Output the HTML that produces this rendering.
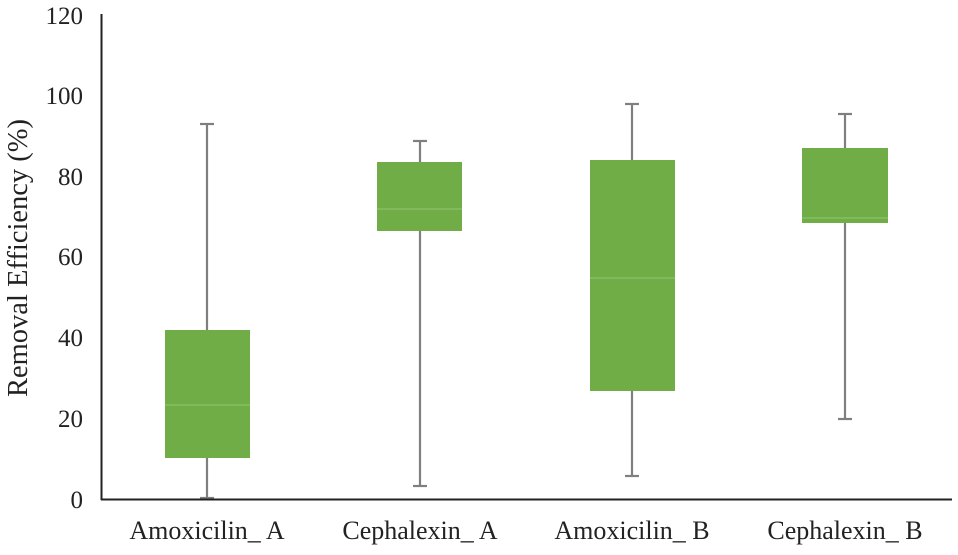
<!DOCTYPE html>
<html><head><meta charset="utf-8"><style>
html,body{margin:0;padding:0;background:#fff;}
</style></head><body>
<svg width="958" height="550" xmlns="http://www.w3.org/2000/svg" font-family="Liberation Serif, serif" fill="#222">
<g font-size="25" text-anchor="end">
<text x="83" y="508">0</text>
<text x="83" y="427">20</text>
<text x="83" y="346">40</text>
<text x="83" y="265">60</text>
<text x="83" y="185">80</text>
<text x="83" y="104">100</text>
<text x="83" y="24">120</text>
</g>
<text transform="translate(27,258) rotate(-90)" font-size="28.5" text-anchor="middle">Removal Efficiency (%)</text>
<g stroke="#7f7f7f" stroke-width="2.2" fill="none">
<line x1="207" y1="124" x2="207" y2="498"/><line x1="200" y1="124" x2="214" y2="124"/><line x1="200" y1="498" x2="214" y2="498"/>
<line x1="420" y1="141" x2="420" y2="486"/><line x1="413" y1="141" x2="427" y2="141"/><line x1="413" y1="486" x2="427" y2="486"/>
<line x1="632" y1="104" x2="632" y2="476"/><line x1="625" y1="104" x2="639" y2="104"/><line x1="625" y1="476" x2="639" y2="476"/>
<line x1="845" y1="114" x2="845" y2="419"/><line x1="838" y1="114" x2="852" y2="114"/><line x1="838" y1="419" x2="852" y2="419"/>
</g>
<g fill="#70ad47">
<rect x="165" y="330" width="85" height="128"/>
<rect x="377" y="162" width="85" height="69"/>
<rect x="590" y="160" width="85" height="231"/>
<rect x="802" y="148" width="86" height="75"/>
</g>
<g stroke="#93c572" stroke-width="1">
<line x1="165" y1="405" x2="250" y2="405"/>
<line x1="377" y1="209" x2="462" y2="209"/>
<line x1="590" y1="278" x2="675" y2="278"/>
<line x1="802" y1="218" x2="888" y2="218"/>
</g>
<g stroke="#222" stroke-width="2">
<line x1="101.5" y1="14" x2="101.5" y2="500"/>
<line x1="101" y1="499.5" x2="952" y2="499.5"/>
</g>
<g font-size="26" text-anchor="middle">
<text x="207" y="539">Amoxicilin_ A</text>
<text x="420" y="539">Cephalexin_ A</text>
<text x="632" y="539">Amoxicilin_ B</text>
<text x="845" y="539">Cephalexin_ B</text>
</g>
</svg>
</body></html>
